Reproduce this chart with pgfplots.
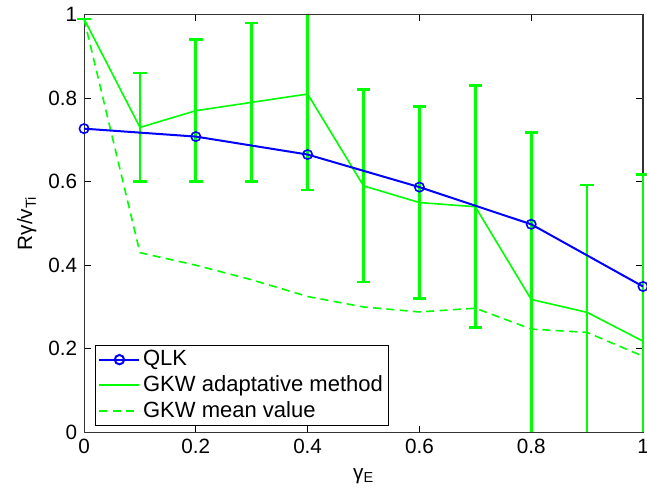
\documentclass[border=0pt]{standalone}
\usepackage{pgfplots}
\pgfplotsset{compat=1.18}
\usepackage{fontspec}
\setmainfont{Liberation Sans}
\begin{document}
\fontsize{15}{18}\selectfont
\begin{tikzpicture}
\begin{axis}[
  scale only axis,
  width=419pt, height=313pt,
  xmin=0, xmax=1, ymin=0, ymax=1,
  clip=false,
  xtick={0,0.2,0.4,0.6,0.8,1},
  ytick={0,0.2,0.4,0.6,0.8,1},
  tick align=inside,
  major tick length=5pt,
  tick style={black, line width=0.6pt},
  axis line style={line width=0.8pt, black!80},
  /pgf/number format/assume math mode=true,
  ticklabel style={font=\fontsize{15.5}{18}\selectfont},
  xlabel={γ\textsubscript{E}},
  ylabel={Rγ/v\textsubscript{Ti}},
  xlabel style={at={(rel axis cs:0.5,0)}, anchor=center, yshift=-33pt},
  ylabel style={at={(rel axis cs:0,0.5)}, anchor=center, yshift=43pt},
  label style={font=\fontsize{15.5}{18}\selectfont},
  legend cell align=left,
  legend style={at={(0.02,0.015)}, anchor=south west, draw=black, line width=0.8pt,
     font=\fontsize{16.5}{19}\selectfont, row sep=1pt, inner sep=2pt,
     nodes={inner xsep=2pt}},
  legend image code/.code={\draw[#1] (0pt,0pt) -- (30pt,0pt);
     \draw[#1, only marks] plot coordinates {(15pt,0pt)};},
]
\addlegendimage{color=blue, line width=1.5pt, mark=o, mark size=3.5pt}
\addlegendentry{QLK}
\addlegendimage{color=green, line width=1.5pt, solid}
\addlegendentry{GKW adaptative method}
\addlegendimage{color=green, line width=1.5pt, dash pattern=on 6pt off 4pt}
\addlegendentry{GKW mean value}
\addplot[forget plot, color=green, line width=1.2pt, dash pattern=on 6pt off 4pt] coordinates {
 (0,0.99) (0.1,0.43) (0.2,0.40) (0.3,0.365) (0.4,0.325) (0.5,0.30)
 (0.6,0.288) (0.7,0.297) (0.8,0.247) (0.9,0.239) (1,0.182)};
% error bars with caps at both ends
\addplot[forget plot, draw=none, mark=none,
  error bars/.cd, y dir=both, y explicit,
  error bar style={line width=2pt, green, solid},
  error mark options={rotate=90, mark size=5pt, line width=2pt, green}]
 coordinates {
 (0,0.99) +- (0,0)
 (0.1,0.73) +- (0,0.13)
 (0.2,0.77) +- (0,0.17)
 (0.3,0.79) +- (0,0.19)
 (0.5,0.59) +- (0,0.23)
 (0.6,0.55) +- (0,0.23)
 (0.7,0.54) +- (0,0.29)};
% cap at lower end only (upper end cut at the top of the axis)
\addplot[forget plot, draw=none, mark=none,
  error bars/.cd, y dir=minus, y explicit,
  error bar style={line width=2pt, green, solid},
  error mark options={rotate=90, mark size=5pt, line width=2pt, green}]
 coordinates {(0.4,0.81) -= (0,0.23)};
\addplot[forget plot, draw=none, mark=none,
  error bars/.cd, y dir=plus, y explicit, error mark=none,
  error bar style={line width=2pt, green, solid}]
 coordinates {(0.4,0.81) += (0,0.19)};
% cap at upper end only (lower end cut at the bottom of the axis)
\addplot[forget plot, draw=none, mark=none,
  error bars/.cd, y dir=plus, y explicit,
  error bar style={line width=2pt, green, solid},
  error mark options={rotate=90, mark size=5pt, line width=2pt, green}]
 coordinates {(0.8,0.318) += (0,0.40) (0.9,0.287) += (0,0.305) (1,0.218) += (0,0.40)};
\addplot[forget plot, draw=none, mark=none,
  error bars/.cd, y dir=minus, y explicit, error mark=none,
  error bar style={line width=2pt, green, solid}]
 coordinates {(0.8,0.318) -= (0,0.318) (0.9,0.287) -= (0,0.287) (1,0.218) -= (0,0.218)};
\addplot[forget plot, color=green, line width=1.2pt] coordinates {
 (0,0.99) (0.1,0.73) (0.2,0.77) (0.3,0.79) (0.4,0.81) (0.5,0.59)
 (0.6,0.55) (0.7,0.54) (0.8,0.318) (0.9,0.287) (1,0.218)};
\addplot[forget plot, color=blue, line width=1.5pt, mark=o, mark size=3.5pt, mark options={line width=1.2pt}] coordinates {
 (0,0.727) (0.2,0.708) (0.4,0.665) (0.6,0.587) (0.8,0.498) (1,0.349)};
\end{axis}
\pgfresetboundingbox
\path ([xshift=-63pt,yshift=-46.5pt]current axis.south west)
      ([xshift=3pt,yshift=11pt]current axis.north east);
\end{tikzpicture}
\end{document}
